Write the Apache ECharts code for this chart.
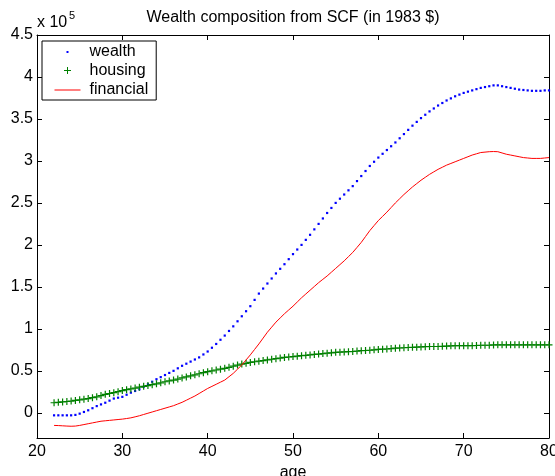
<!DOCTYPE html>
<html>
<head>
<meta charset="utf-8">
<script src="https://cdn.jsdelivr.net/npm/echarts@6/dist/echarts.min.js"></script>
<style>
html,body{margin:0;padding:0;background:#fff;}
#chart{width:555px;height:476px;}
</style>
</head>
<body>
<div id="chart"></div>
<script>
// ages (years), one observation every half year
var ages = [22,22.5,23,23.5,24,24.5,25,25.5,26,26.5,27,27.5,28,28.5,29,29.5,30,30.5,31,31.5,32,32.5,33,33.5,34,34.5,35,35.5,36,36.5,37,37.5,38,38.5,39,39.5,40,40.5,41,41.5,42,42.5,43,43.5,44,44.5,45,45.5,46,46.5,47,47.5,48,48.5,49,49.5,50,50.5,51,51.5,52,52.5,53,53.5,54,54.5,55,55.5,56,56.5,57,57.5,58,58.5,59,59.5,60,60.5,61,61.5,62,62.5,63,63.5,64,64.5,65,65.5,66,66.5,67,67.5,68,68.5,69,69.5,70,70.5,71,71.5,72,72.5,73,73.5,74,74.5,75,75.5,76,76.5,77,77.5,78,78.5,79,79.5,80];

// values in units of 10^5 (1983 $)
var wealth = [-0.03,-0.03,-0.03,-0.03,-0.03,-0.025,-0.01,0.01,0.03,0.055,0.08,0.10,0.12,0.145,0.17,0.18,0.19,0.215,0.24,0.26,0.28,0.31,0.34,0.37,0.40,0.425,0.45,0.475,0.50,0.53,0.56,0.585,0.61,0.635,0.66,0.695,0.73,0.775,0.82,0.87,0.92,0.975,1.03,1.09,1.15,1.21,1.27,1.345,1.42,1.48,1.54,1.60,1.66,1.715,1.77,1.83,1.89,1.945,2.0,2.06,2.12,2.185,2.25,2.315,2.38,2.44,2.5,2.55,2.6,2.65,2.7,2.76,2.82,2.88,2.94,2.99,3.04,3.085,3.13,3.175,3.22,3.27,3.32,3.37,3.42,3.465,3.51,3.55,3.59,3.625,3.66,3.69,3.72,3.745,3.77,3.79,3.81,3.825,3.84,3.855,3.87,3.88,3.89,3.9,3.9,3.89,3.88,3.87,3.86,3.85,3.845,3.84,3.835,3.835,3.835,3.84,3.84];

var housing = [0.12,0.125,0.13,0.135,0.14,0.148,0.155,0.162,0.17,0.18,0.19,0.205,0.22,0.23,0.24,0.252,0.265,0.275,0.285,0.295,0.305,0.315,0.325,0.335,0.345,0.357,0.37,0.38,0.39,0.402,0.415,0.428,0.44,0.452,0.465,0.478,0.49,0.5,0.51,0.52,0.53,0.542,0.555,0.568,0.58,0.59,0.6,0.608,0.615,0.622,0.63,0.638,0.645,0.652,0.66,0.665,0.67,0.675,0.68,0.685,0.69,0.695,0.70,0.705,0.71,0.715,0.72,0.722,0.725,0.728,0.73,0.735,0.74,0.742,0.745,0.75,0.755,0.758,0.76,0.765,0.77,0.772,0.775,0.778,0.78,0.782,0.785,0.788,0.79,0.79,0.79,0.792,0.795,0.798,0.8,0.8,0.8,0.8,0.8,0.802,0.805,0.805,0.805,0.808,0.81,0.81,0.81,0.81,0.81,0.81,0.81,0.81,0.81,0.81,0.81,0.81,0.81];

var financial = [-0.15,-0.152,-0.155,-0.158,-0.16,-0.158,-0.15,-0.14,-0.13,-0.12,-0.11,-0.1,-0.095,-0.09,-0.085,-0.08,-0.075,-0.068,-0.06,-0.048,-0.035,-0.02,-0.005,0.01,0.025,0.04,0.055,0.07,0.085,0.105,0.125,0.15,0.175,0.2,0.23,0.26,0.29,0.315,0.34,0.365,0.39,0.43,0.47,0.52,0.57,0.63,0.69,0.755,0.82,0.89,0.96,1.02,1.08,1.13,1.18,1.225,1.27,1.32,1.37,1.415,1.46,1.505,1.55,1.59,1.63,1.675,1.72,1.765,1.81,1.86,1.91,1.97,2.03,2.1,2.17,2.23,2.29,2.34,2.39,2.445,2.5,2.55,2.6,2.645,2.69,2.73,2.77,2.805,2.84,2.87,2.9,2.925,2.95,2.97,2.99,3.01,3.03,3.05,3.07,3.085,3.1,3.105,3.11,3.112,3.11,3.095,3.08,3.07,3.06,3.05,3.04,3.035,3.03,3.03,3.03,3.035,3.04];

var xTicks = [20,30,40,50,60,70,80];
var yTicks = [0,0.5,1,1.5,2,2.5,3,3.5,4,4.5];

var FONT = '"Liberation Sans", Arial, Helvetica, sans-serif';

function pairs(vals){ return ages.map(function(a,i){ return [a, vals[i]]; }); }

var chart = echarts.init(document.getElementById('chart'), null, {renderer:'canvas'});

var baseY = {
  type:'value', min:-0.3, max:4.5,
  axisLine:{show:true, onZero:false, lineStyle:{color:'#000', width:1}},
  axisTick:{show:true, inside:true, length:5, customValues:yTicks, lineStyle:{color:'#000'}},
  splitLine:{show:false}
};
var baseX = {
  type:'value', min:20, max:80, interval:10,
  axisLine:{show:true, onZero:false, lineStyle:{color:'#000', width:1}},
  axisTick:{show:true, inside:true, length:5, customValues:xTicks, lineStyle:{color:'#000'}},
  splitLine:{show:false}
};

var option = {
  animation:false,
  backgroundColor:'#fff',
  textStyle:{fontFamily:FONT},
  title:{
    text:'Wealth composition from SCF (in 1983 $)',
    left:293, top:10, textAlign:'center', padding:0,
    textStyle:{fontSize:16, fontWeight:'normal', color:'#000', fontFamily:FONT}
  },
  grid:{left:37, right:6, top:35, bottom:38, containLabel:false, outerBoundsMode:'none'},
  xAxis:[
    Object.assign({}, baseX, {
      position:'bottom', name:'age', nameLocation:'middle', nameGap:22,
      nameTextStyle:{fontSize:16, color:'#000', fontFamily:FONT},
      axisLabel:{show:true, margin:6, fontSize:16, color:'#000', fontFamily:FONT, customValues:xTicks, showMinLabel:true, showMaxLabel:true}
    }),
    Object.assign({}, baseX, {position:'top', axisLabel:{show:false}})
  ],
  yAxis:[
    Object.assign({}, baseY, {
      position:'left',
      axisLabel:{show:true, margin:4, fontSize:16, color:'#000', fontFamily:FONT, customValues:yTicks,
        formatter:function(v){ return String(v); }}
    }),
    Object.assign({}, baseY, {position:'right', axisLabel:{show:false}})
  ],
  legend:{
    orient:'vertical', left:42, top:41,
    padding:[2,8,1,10], itemWidth:30, itemHeight:14, itemGap:0,
    borderColor:'#000', borderWidth:1, backgroundColor:'#fff', borderRadius:0,
    selectedMode:false,
    textStyle:{fontSize:16, lineHeight:18, color:'#000', fontFamily:FONT},
    data:[
      {name:'wealth', icon:'path://M0,0M30,14M12,6h2v2h-2z', itemStyle:{color:'#0000ff', borderWidth:0}},
      {name:'housing', icon:'path://M0,0M30,14M13,3.5V10.5M9.5,7H16.5', itemStyle:{color:'none', borderColor:'#008000', borderWidth:1}},
      {name:'financial', icon:'path://M0,0M30,14M0,7.5H26', itemStyle:{color:'none', borderColor:'#ff0000', borderWidth:1}}
    ]
  },
  series:[
    {
      name:'wealth', type:'line', data:pairs(wealth),
      symbol:'rect', symbolSize:2.2, showSymbol:true, showAllSymbol:true,
      itemStyle:{color:'#0000ff'},
      lineStyle:{width:0, opacity:0},
      silent:true, z:2
    },
    {
      name:'housing', type:'line', data:pairs(housing),
      symbol:'path://M3,0V6M0,3H6', symbolSize:7, showSymbol:true, showAllSymbol:true,
      itemStyle:{color:'#008000', borderColor:'#008000', borderWidth:1.2, opacity:1},
      lineStyle:{width:0, opacity:0},
      silent:true, z:3
    },
    {
      name:'financial', type:'line', data:pairs(financial),
      symbol:'none', showSymbol:false,
      itemStyle:{color:'#ff0000'},
      lineStyle:{width:1, color:'#ff0000'},
      silent:true, z:4
    }
  ],
  graphic:[
    {type:'text', left:37, top:15, style:{text:'x 10', fontSize:16, fontFamily:FONT, fill:'#000'}},
    {type:'text', left:69, top:10, style:{text:'5', fontSize:11, fontFamily:FONT, fill:'#000'}}
  ]
};

chart.setOption(option);
</script>
</body>
</html>
